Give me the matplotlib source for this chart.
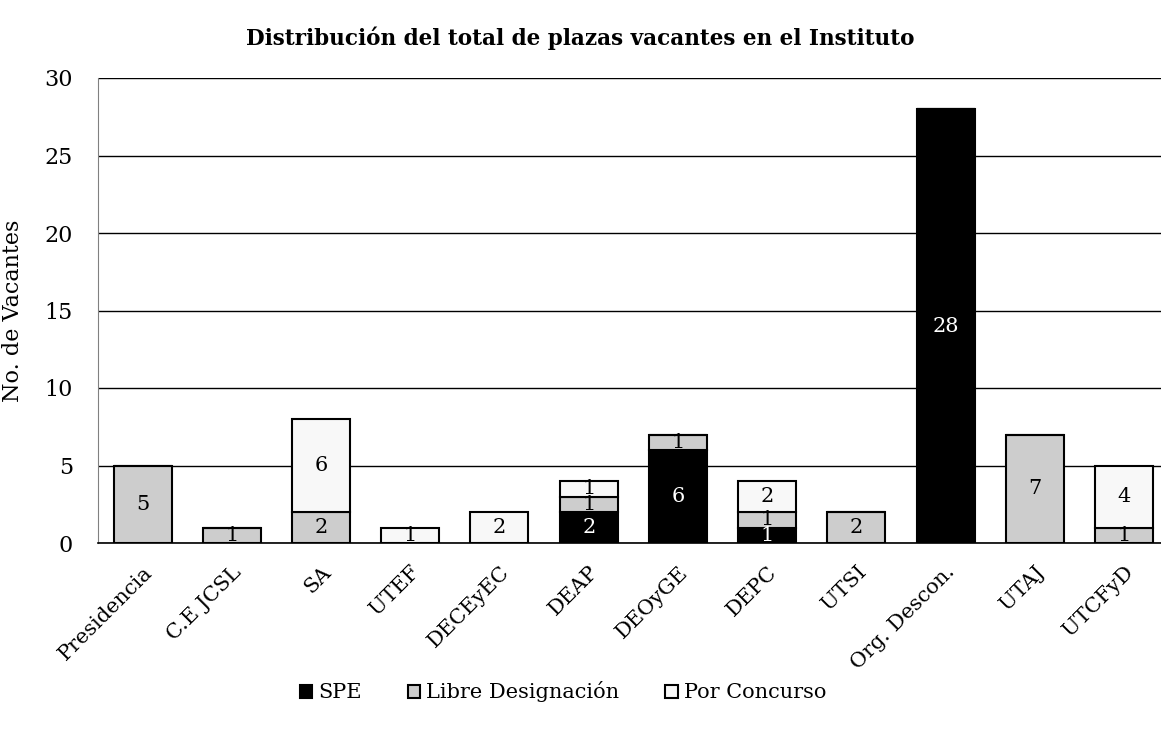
import matplotlib
matplotlib.use("Agg")
import matplotlib.pyplot as plt
import numpy as np

categories = ["Presidencia", "C.E JCSL", "SA", "UTEF", "DECEyEC", "DEAP", "DEOyGE",
              "DEPC", "UTSI", "Org. Descon.", "UTAJ", "UTCFyD"]
spe = [0, 0, 0, 0, 0, 2, 6, 1, 0, 28, 0, 0]
libre = [5, 1, 2, 0, 0, 1, 1, 1, 2, 0, 7, 1]
concurso = [0, 0, 6, 1, 2, 1, 0, 2, 0, 0, 0, 4]
series_names = ["SPE", "Libre Designación", "Por Concurso"]
yticks = [0, 5, 10, 15, 20, 25, 30]

plt.rcParams['font.family'] = ['DejaVu Serif']

fig = plt.figure(figsize=(11.61, 7.41), dpi=100)
ax = fig.add_axes([98/1161, 1-543/741, (1168.6-98)/1161, (543-78)/741])

x = np.arange(len(categories))
w = 0.65
colors = ["#000000", "#cdcdcd", "#f8f8f8"]
text_colors = ["white", "black", "black"]
bottom = np.zeros(len(categories))
handles = []
for vals, name, c, tc in zip([spe, libre, concurso], series_names, colors, text_colors):
    vals = np.array(vals, dtype=float)
    bars = ax.bar(x, vals, w, bottom=bottom, color=c, edgecolor="black", linewidth=1.5,
                  label=name, zorder=3)
    handles.append(bars)
    for xi, v, b in zip(x, vals, bottom):
        if v > 0:
            ax.text(xi, b + v/2, f"{int(v)}", ha="center", va="center",
                    fontsize=15, color=tc, zorder=4)
    bottom += vals

ax.set_ylim(0, 30)
ax.set_xlim(-0.5, len(categories) - 0.5)
ax.set_yticks(yticks)
ax.set_yticklabels([str(t) for t in yticks], fontsize=16)
ax.yaxis.grid(True, color="black", linewidth=1.0, zorder=0)
ax.set_axisbelow(True)
ax.tick_params(axis="y", length=0, pad=18)
ax.tick_params(axis="x", length=0, pad=14)
ax.set_xticks(x)
ax.set_xticklabels(categories, rotation=45, ha="right", rotation_mode="anchor", fontsize=15)
for s in ["top", "right"]:
    ax.spines[s].set_visible(False)
ax.spines["left"].set_color("#808080")
ax.spines["bottom"].set_color("black")
ax.spines["bottom"].set_linewidth(1.2)

ax.set_ylabel("No. de Vacantes", fontsize=16)
ax.yaxis.set_label_coords(-(98-24)/(1168.6-98), 0.5)
fig.text(580/1161, 1-38/741, "Distribución del total de plazas vacantes en el Instituto",
         ha="center", va="center", fontsize=15.5, fontweight="bold")

leg = fig.legend(handles, series_names, loc="center", bbox_to_anchor=(563/1161, 1-692/741),
                 ncol=3, frameon=False, fontsize=15, handlelength=0.6, handleheight=0.6,
                 columnspacing=2.2, handletextpad=0.3)

fig.savefig("out.png", dpi=100)
